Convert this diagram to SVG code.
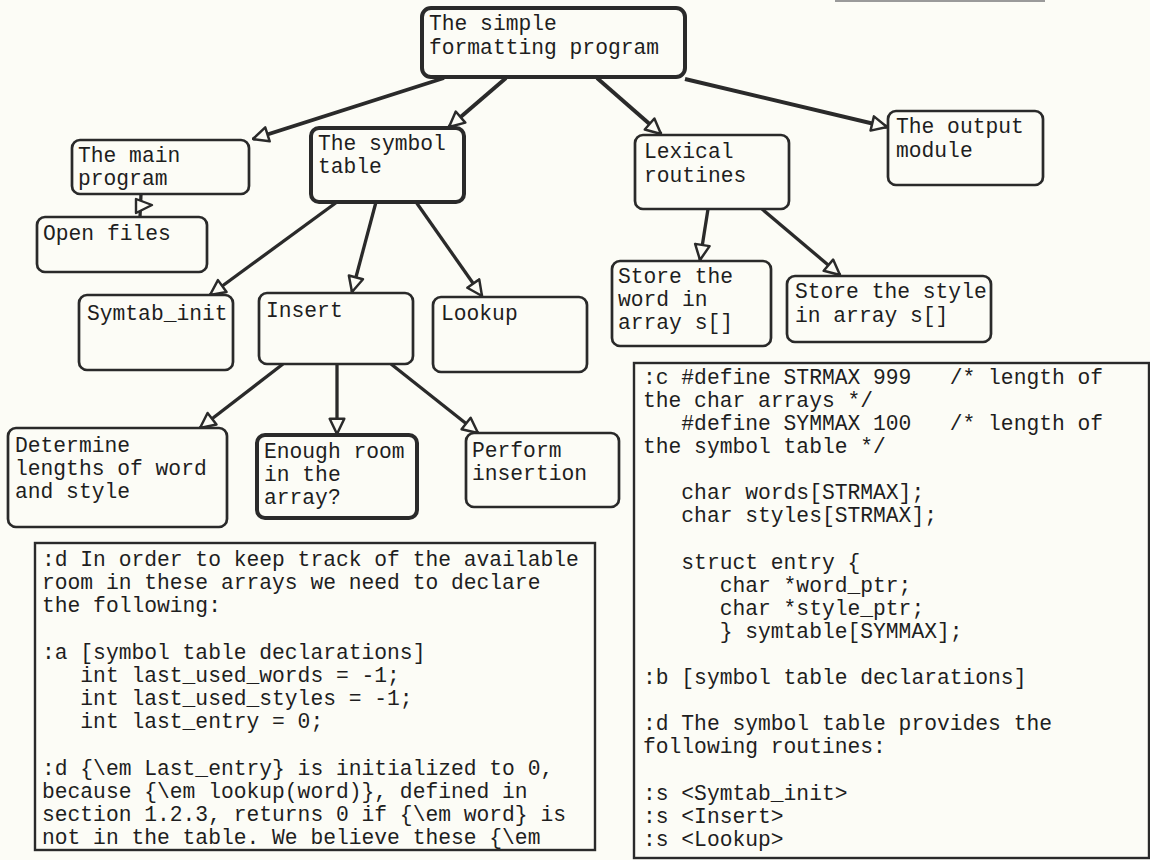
<svg xmlns="http://www.w3.org/2000/svg" width="1150" height="860" viewBox="0 0 1150 860">
<style>
  .bg { fill: #fcfcf6; }
  .box { fill: #fcfcf6; stroke: #2a2a2a; stroke-width: 2.7; }
  .thick { stroke-width: 4; }
  .code { fill: #fcfcf6; stroke: #2a2a2a; stroke-width: 2.4; }
  text { font-family: "Liberation Mono", "DejaVu Sans Mono", monospace; font-size: 21.3px; fill: #1e1e1e; white-space: pre; }
  .conn line { stroke: #2a2a2a; stroke-width: 3.3; fill: none; }
  .conn .main { stroke-width: 3.9; }
</style>
<defs>
  <marker id="arr" viewBox="0 0 16 16" refX="15" refY="8" markerWidth="18" markerHeight="18" markerUnits="userSpaceOnUse" orient="auto">
    <path d="M1.5,1.5 L15,8 L1.5,14.5 Z" fill="#fcfcf6" stroke="#2a2a2a" stroke-width="2.2" stroke-linejoin="round"/>
  </marker>
</defs>
<rect class="bg" x="0" y="0" width="1150" height="860"/>
<line x1="835" y1="1" x2="1045" y2="1" stroke="#9a9a9a" stroke-width="2"/>

<g id="connectors" class="conn">
  <line class="main" x1="444" y1="78" x2="253" y2="139" marker-end="url(#arr)"/>
  <line class="main" x1="506" y1="78" x2="449" y2="127" marker-end="url(#arr)"/>
  <line class="main" x1="597" y1="78" x2="661" y2="134" marker-end="url(#arr)"/>
  <line class="main" x1="685" y1="79" x2="887" y2="127" marker-end="url(#arr)"/>
  <line x1="141" y1="194" x2="140" y2="217"/>
  <polygon points="136,199 136,213 152,205" fill="#fcfcf6" stroke="#2a2a2a" stroke-width="2.4" stroke-linejoin="round"/>
  <line x1="337" y1="202" x2="210" y2="295" marker-end="url(#arr)"/>
  <line x1="376" y1="202" x2="352" y2="292" marker-end="url(#arr)"/>
  <line x1="416" y1="202" x2="482" y2="296" marker-end="url(#arr)"/>
  <line x1="708" y1="209" x2="700" y2="260" marker-end="url(#arr)"/>
  <line x1="762" y1="209" x2="840" y2="275" marker-end="url(#arr)"/>
  <line x1="283" y1="364" x2="200" y2="428" marker-end="url(#arr)"/>
  <line x1="337" y1="364" x2="337" y2="434" marker-end="url(#arr)"/>
  <line x1="391" y1="364" x2="478" y2="433" marker-end="url(#arr)"/>
</g>

<g id="node-root">
  <rect class="box thick" x="422" y="8" width="263" height="69" rx="9"/>
  <text x="429" y="30">The simple</text>
  <text x="429" y="54">formatting program</text>
</g>
<g id="node-main">
  <rect class="box" x="72" y="140" width="177" height="54" rx="8"/>
  <text x="78" y="162">The main</text>
  <text x="78" y="185">program</text>
</g>
<g id="node-symbol">
  <rect class="box thick" x="311" y="128" width="153" height="74" rx="8"/>
  <text x="318" y="150">The symbol</text>
  <text x="318" y="173">table</text>
</g>
<g id="node-open">
  <rect class="box" x="37" y="217" width="170" height="55" rx="8"/>
  <text x="43" y="240">Open files</text>
</g>
<g id="node-lexical">
  <rect class="box" x="635" y="135" width="154" height="74" rx="8"/>
  <text x="644" y="158">Lexical</text>
  <text x="644" y="182">routines</text>
</g>
<g id="node-output">
  <rect class="box" x="888" y="111" width="155" height="74" rx="8"/>
  <text x="896" y="133">The output</text>
  <text x="896" y="157">module</text>
</g>
<g id="node-symtab-init">
  <rect class="box" x="79" y="295" width="154" height="75" rx="8"/>
  <text x="87" y="320">Symtab_init</text>
</g>
<g id="node-insert">
  <rect class="box" x="259" y="293" width="154" height="71" rx="8"/>
  <text x="266" y="317">Insert</text>
</g>
<g id="node-lookup">
  <rect class="box" x="433" y="297" width="154" height="75" rx="8"/>
  <text x="441" y="320">Lookup</text>
</g>
<g id="node-store-word">
  <rect class="box" x="612" y="261" width="159" height="85" rx="8"/>
  <text x="618" y="283">Store the</text>
  <text x="618" y="306">word in</text>
  <text x="618" y="329">array s[]</text>
</g>
<g id="node-store-style">
  <rect class="box" x="787" y="276" width="204" height="66" rx="8"/>
  <text x="795" y="298">Store the style</text>
  <text x="795" y="322">in array s[]</text>
</g>
<g id="node-determine">
  <rect class="box" x="8" y="428" width="219" height="99" rx="8"/>
  <text x="15" y="452">Determine</text>
  <text x="15" y="475">lengths of word</text>
  <text x="15" y="498">and style</text>
</g>
<g id="node-enough">
  <rect class="box thick" x="257" y="435" width="160" height="83" rx="8"/>
  <text x="264" y="458">Enough room</text>
  <text x="264" y="481">in the</text>
  <text x="264" y="504">array?</text>
</g>
<g id="node-perform">
  <rect class="box" x="466" y="433" width="153" height="74" rx="8"/>
  <text x="472" y="457">Perform</text>
  <text x="472" y="480">insertion</text>
</g>

<g id="code-left">
  <rect class="code" x="35" y="543" width="560" height="307"/>
  <text x="42" y="566">:d In order to keep track of the available</text>
  <text x="42" y="589">room in these arrays we need to declare</text>
  <text x="42" y="612">the following:</text>
  <text x="42" y="659">:a [symbol table declarations]</text>
  <text x="42" y="682">   int last_used_words = -1;</text>
  <text x="42" y="705">   int last_used_styles = -1;</text>
  <text x="42" y="728">   int last_entry = 0;</text>
  <text x="42" y="775">:d {\em Last_entry} is initialized to 0,</text>
  <text x="42" y="798">because {\em lookup(word)}, defined in</text>
  <text x="42" y="821">section 1.2.3, returns 0 if {\em word} is</text>
  <text x="42" y="844">not in the table. We believe these {\em</text>
</g>

<g id="code-right">
  <rect class="code" x="634" y="363" width="515" height="495"/>
  <text x="643" y="384">:c #define STRMAX 999   /* length of</text>
  <text x="643" y="407">the char arrays */</text>
  <text x="643" y="430">   #define SYMMAX 100   /* length of</text>
  <text x="643" y="453">the symbol table */</text>
  <text x="643" y="499">   char words[STRMAX];</text>
  <text x="643" y="522">   char styles[STRMAX];</text>
  <text x="643" y="569">   struct entry {</text>
  <text x="643" y="592">      char *word_ptr;</text>
  <text x="643" y="615">      char *style_ptr;</text>
  <text x="643" y="638">      } symtable[SYMMAX];</text>
  <text x="643" y="684">:b [symbol table declarations]</text>
  <text x="643" y="730">:d The symbol table provides the</text>
  <text x="643" y="753">following routines:</text>
  <text x="643" y="800">:s &lt;Symtab_init&gt;</text>
  <text x="643" y="823">:s &lt;Insert&gt;</text>
  <text x="643" y="846">:s &lt;Lookup&gt;</text>
</g>
</svg>
